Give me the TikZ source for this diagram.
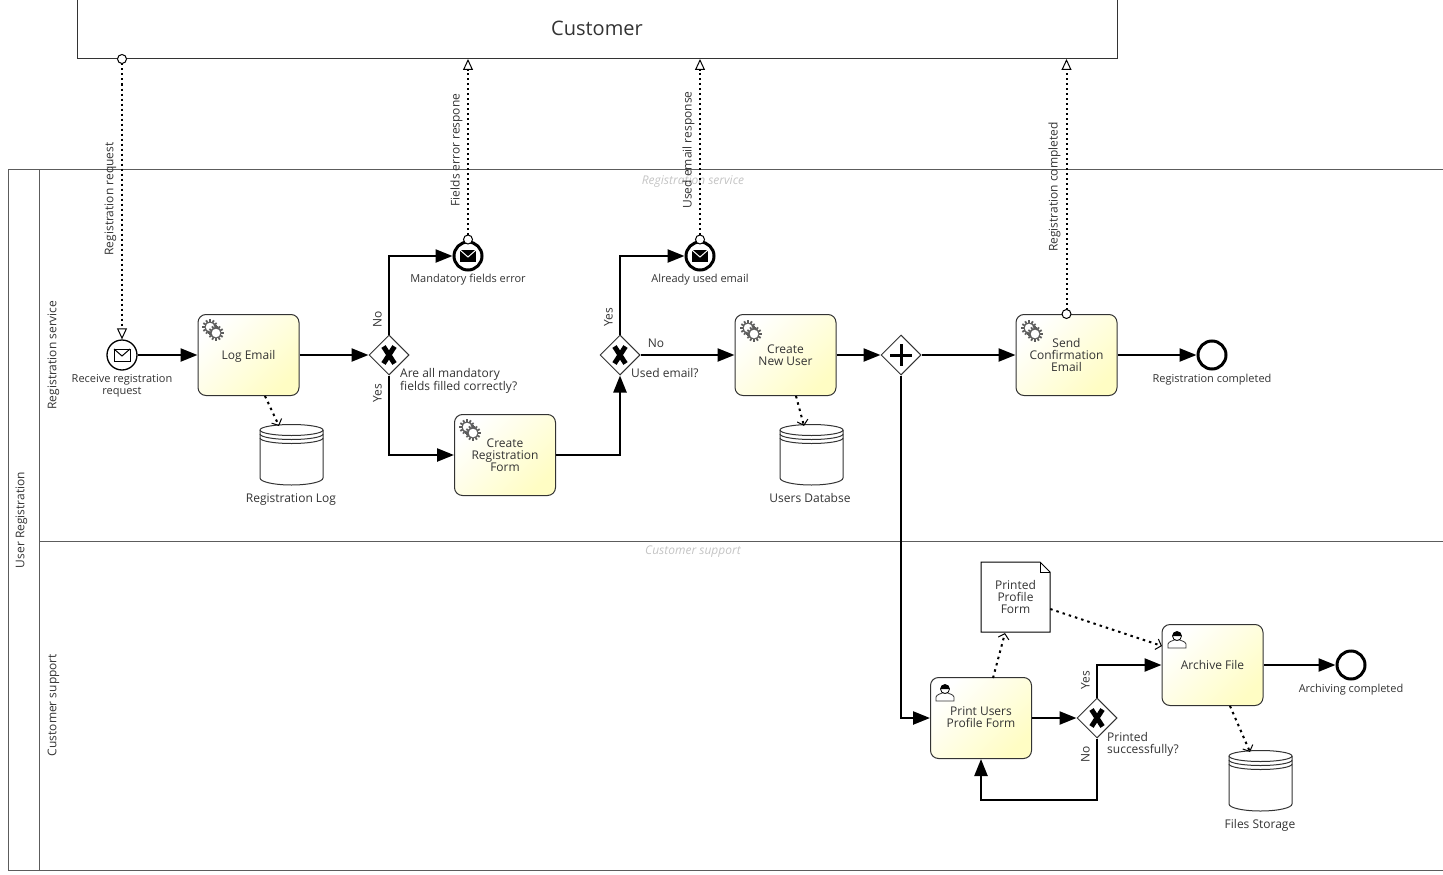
\documentclass[tikz,border=0pt]{standalone}
\usepackage{fontspec}
\setmainfont{Open Sans}
\usetikzlibrary{arrows.meta,shapes.geometric}
\definecolor{taskfill}{HTML}{FFFDC4}
\definecolor{inkgray}{HTML}{333333}
\definecolor{lanegray}{HTML}{C4C4C4}

% small icons, all relative to a named node or coordinate
\newcommand{\mailicon}[1]{
    \draw[black, line width=1pt, fill=white, shift={(#1)}] (-8,-6) rectangle (8,6);
    \draw[black, line width=1pt, shift={(#1)}] (-8,-6) -- (0,1) -- (8,-6);
}
\newcommand{\mailblack}[1]{
    \fill[black, shift={(#1)}] (-8,-6) rectangle (8,6);
    \draw[white, line width=1pt, shift={(#1)}] (-8,-6) -- (0,1) -- (8,-6);
}
\newcommand{\gearicon}[1]{
    \begin{scope}[shift={(#1)}]
        \foreach \c/\r in {-3/-3, 3/3} {
            \foreach \a in {0,30,...,330}
                \draw[inkgray!80, line width=1.8pt] (\c,\r) ++(\a:4.5) -- ++(\a:3.2);
            \draw[inkgray!80, line width=1pt, fill=white] (\c,\r) circle (5);
        }
    \end{scope}
}
\newcommand{\personicon}[1]{
    \begin{scope}[shift={(#1)}]
        \draw[inkgray, line width=0.8pt, fill=white] (-9,9) -- (-9,5) .. controls (-8,2) and (-4,2) .. (-3,1)
            -- (3,1) .. controls (4,2) and (8,2) .. (9,5) -- (9,9) -- cycle;
        \draw[black, line width=0.8pt, fill=white] (0,-3) circle (4.5);
        \fill[black] (-4.5,-3) arc (180:360:4.5) -- (3,-3) -- (-3,-3) -- cycle;
    \end{scope}
}
\newcommand{\storeicon}[3]{
    \node[storebody] (#1) at (#2,#3) {};
    \begin{scope}[shift={(#1)}]
        \draw[inkgray, line width=1pt] (-31.5,-25) -- (-31.5,23) arc (180:0:31.5 and 7) -- (31.5,-25);
        \draw[inkgray, line width=1pt] (-31.5,-25) arc (180:-180:31.5 and 5.5);
        \draw[inkgray, line width=1pt] (-31.5,-21) arc (180:0:31.5 and 5.5);
        \draw[inkgray, line width=1pt] (-31.5,-17) arc (180:0:31.5 and 5.5);
    \end{scope}
}

\begin{document}
\begin{tikzpicture}[x=1pt, y=-1pt]
    \tikzstyle{task}=[draw=inkgray, rounded corners=8pt, line width=1pt, minimum width=101pt, minimum height=81pt, inner sep=0pt, align=center, text=inkgray, font=\fontsize{12}{12}\selectfont, left color=white, right color=taskfill, shading angle=45]
    \tikzstyle{gateway}=[diamond, draw=inkgray, fill=white, line width=1pt, minimum size=40pt, inner sep=0pt]
    \tikzstyle{startevent}=[circle, draw=black, fill=white, line width=1.3pt, minimum size=30pt, inner sep=0pt]
    \tikzstyle{endevent}=[circle, draw=black, fill=white, line width=3pt, minimum size=28pt, inner sep=0pt]
    \tikzstyle{storebody}=[minimum width=63pt, minimum height=60pt, inner sep=0pt]
    \tikzstyle{txt}=[text=inkgray, inner sep=0pt, align=center, font=\fontsize{11}{12}\selectfont]
    \tikzstyle{txtbig}=[text=inkgray, inner sep=0pt, align=left, font=\fontsize{12}{12}\selectfont]
    \tikzstyle{sideways}=[txtbig, rotate=90]
    \tikzstyle{lanetitle}=[text=lanegray, inner sep=0pt, font=\fontsize{12}{12}\selectfont\itshape]
    \tikzstyle{flow}=[black, line width=2.4pt, -{Triangle[length=17pt,width=13pt]}]
    \tikzstyle{msg}=[black, line width=2pt, dash pattern=on 2pt off 3pt, {Circle[open,fill=white,length=10pt,width=10pt,line width=1pt,sep=0pt]}-{Triangle[open,fill=white,length=11pt,width=10pt,line width=1pt]}]
    \tikzstyle{assoc}=[black, line width=2pt, dash pattern=on 2.5pt off 4pt, -{Straight Barb[length=5pt,width=11pt,line width=1pt]}]
    \tikzstyle{frame}=[inkgray!80, line width=1pt]

    \useasboundingbox (0,0) rectangle (1443,875);

    % pool and lanes
    \draw[frame] (1443,169) -- (8.5,169) -- (8.5,870) -- (1443,870);
    \draw[frame] (39,169) -- (39,870);
    \draw[frame] (39,541) -- (1443,541);
    \node[sideways] (pooltitle) at (21.5,520) {User Registration};
    \node[sideways] (laneA) at (53.5,355) {Registration service};
    \node[sideways] (laneB) at (53.5,705) {Customer support};
    \node[lanetitle] (titleA) at (693,182) {Registration service};
    \node[lanetitle] (titleB) at (693,552) {Customer support};

    % customer pool, runs off the top
    \path[clip] (0,0) rectangle (1443,875);
    \node[draw=inkgray, line width=1pt, minimum width=1040pt, minimum height=74pt, inner sep=0pt] (customer) at (597,22) {};
    \node[text=inkgray, inner sep=0pt, font=\fontsize{20}{24}\selectfont] (customertxt) at (597,28) {Customer};

    % events
    \node[startevent] (recv) at (122,355) {};
    \node[endevent] (errevt) at (468,256) {};
    \node[endevent] (usedevt) at (700,256) {};
    \node[endevent] (doneevt) at (1212,355) {};
    \node[endevent] (archevt) at (1351,665) {};
    \mailicon{recv}
    \mailblack{errevt}
    \mailblack{usedevt}

    % tasks
    \node[task] (log) at (248.5,355) {Log Email\rule{0pt}{11pt}};
    \node[task] (form) at (505,455) {Create\\Registration\\Form};
    \node[task] (newuser) at (785.5,355) {Create\\New User};
    \node[task] (confirm) at (1066.5,355) {Send\\Confirmation\\Email};
    \node[task] (print) at (981,718) {\\[-4pt]Print Users\\Profile Form};
    \node[task] (archive) at (1212.5,665) {Archive File};
    \gearicon{213,330}
    \gearicon{470,430}
    \gearicon{751,331}
    \gearicon{1032,331}
    \personicon{945,692}
    \personicon{1177,639}

    % gateways
    \node[gateway] (gwfields) at (389,355) {};
    \node[gateway] (gwused) at (620,355) {};
    \node[gateway] (gwsplit) at (901,355) {};
    \node[gateway] (gwprint) at (1097,718) {};
    \foreach \g in {gwfields,gwused,gwprint} {
        \draw[black, line width=5pt, shift={(\g)}] (-5.5,-8.5) -- (5.5,8.5) (-5.5,8.5) -- (5.5,-8.5);
    }
    \draw[black, line width=3pt, shift={(gwsplit)}] (-11,0) -- (11,0) (0,-11) -- (0,11);

    % data
    \storeicon{storelog}{291.5}{455}
    \storeicon{storeusers}{811.5}{455}
    \storeicon{storefiles}{1260.5}{781}
    \node[minimum width=69pt, minimum height=70pt, inner sep=0pt, align=center, text=inkgray, font=\fontsize{12}{12}\selectfont] (doc) at (1015.5,597) {Printed\\Profile\\Form};
    \draw[black, line width=1pt] (981,562) -- (1040,562) -- (1050,572) -- (1050,632) -- (981,632) -- cycle;
    \draw[black, line width=0.8pt] (1040,562) -- (1040,572) -- (1050,572);

    % sequence flows
    \coordinate (upfields) at (389,256);
    \coordinate (downfields) at (389,455);
    \coordinate (formcorner) at (620,455);
    \coordinate (upused) at (620,256);
    \coordinate (splitdown) at (901,718);
    \coordinate (upprint) at (1097,665);
    \coordinate (downprint) at (1097,800);
    \coordinate (backprint) at (981,800);
    \draw[flow] (recv) -- (log);
    \draw[flow] (log) -- (gwfields);
    \draw[flow] (gwfields) -- (upfields) -- (errevt);
    \draw[flow] (gwfields) -- (downfields) -- (form);
    \draw[flow] (form) -- (formcorner) -- (gwused);
    \draw[flow] (gwused) -- (upused) -- (usedevt);
    \draw[flow] (gwused) -- (newuser);
    \draw[flow] (newuser) -- (gwsplit);
    \draw[flow] (gwsplit) -- (confirm);
    \draw[flow] (confirm) -- (doneevt);
    \draw[flow] (gwsplit) -- (splitdown) -- (print);
    \draw[flow] (print) -- (gwprint);
    \draw[flow] (gwprint) -- (upprint) -- (archive);
    \draw[flow] (gwprint) -- (downprint) -- (backprint) -- (print);
    \draw[flow] (archive) -- (archevt);

    % message flows
    \coordinate (msgrecv) at (122,54);
    \coordinate (msgerr) at (468,59);
    \coordinate (msgused) at (700,59);
    \coordinate (msgdone) at (1066.5,59);
    \draw[msg] (msgrecv) -- (recv.north);
    \draw[msg] ([yshift=-4pt]errevt.north) -- (msgerr);
    \draw[msg] ([yshift=-4pt]usedevt.north) -- (msgused);
    \draw[msg] ([yshift=-5pt]confirm.north) -- (msgdone);

    % data associations
    \draw[assoc] (265,396) -- (279,426);
    \draw[assoc] (796,396) -- (804,426);
    \draw[assoc] (1230,706) -- (1250,752);
    \draw[assoc] (993,678) -- (1005,633);
    \draw[assoc] (doc.east) ++(0,12) -- (1162,646);

    % labels
    \node[txt] (lblrecv) at (122,385.5) {Receive registration\\request};
    \node[txt] (lblerr) at (468,280) {Mandatory fields error};
    \node[txt] (lblused) at (700,280) {Already used email};
    \node[txt] (lbldone) at (1212,380) {Registration completed};
    \node[txt] (lblarch) at (1351,690) {Archiving completed};
    \node[txt, font=\fontsize{12}{12}\selectfont] (lbllog) at (291,500) {Registration Log};
    \node[txt, font=\fontsize{12}{12}\selectfont] (lblusers) at (810,498) {Users Databse};
    \node[txt, font=\fontsize{12}{12}\selectfont] (lblfiles) at (1260,825) {Files Storage};
    \node[txtbig, anchor=west] (lblfields) at (400,381) {Are all mandatory\\fields filled correctly?};
    \node[txtbig, anchor=west] (lblq) at (631,373) {Used email?};
    \node[txtbig, anchor=west] (lblprinted) at (1107,744) {Printed\\successfully?};
    \node[sideways] (noA) at (377.5,319) {No};
    \node[sideways] (yesA) at (377.5,393) {Yes};
    \node[sideways] (yesB) at (608.5,317) {Yes};
    \node[txtbig] (noB) at (656,343) {No};
    \node[sideways] (yesC) at (1085.5,680) {Yes};
    \node[sideways] (noC) at (1085.5,754) {No};
    \node[sideways] (lblmsgA) at (110.5,199) {Registration request};
    \node[sideways] (lblmsgB) at (456.5,150) {Fields error respone};
    \node[sideways] (lblmsgC) at (688.5,150) {Used email response};
    \node[sideways] (lblmsgD) at (1054.5,187) {Registration completed};
\end{tikzpicture}
\end{document}
